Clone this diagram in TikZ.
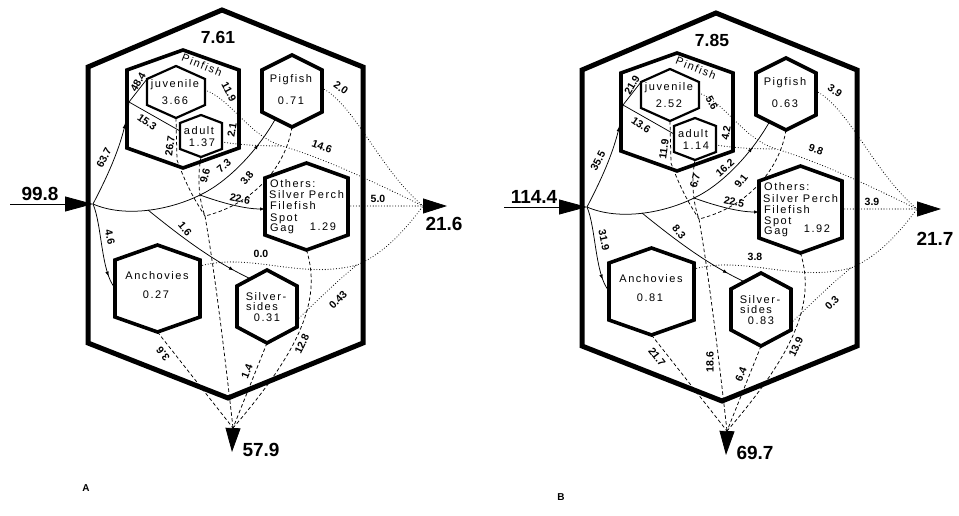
\documentclass[tikz,border=0pt]{standalone}
\usepackage{fontspec}
\setmainfont{Liberation Sans}
\newfontfamily\lblfont[LetterSpace=14]{Liberation Sans}
\usetikzlibrary{arrows.meta,decorations.markings,calc}
\tikzset{
 outerhex/.style={line width=5pt, line join=miter},
 hexmed/.style={line width=3.6pt, line join=miter},
 hexthin/.style={line width=2.2pt, line join=miter},
 flow/.style={line width=0.75pt},
 dashflow/.style={line width=0.75pt, dash pattern=on 3.5pt off 2.5pt},
 dotflow/.style={line width=1.1pt, dash pattern=on 0pt off 2.8pt, line cap=round},
 midarrow/.style={postaction={decorate}, decoration={markings, mark=at position #1 with {\arrow{Latex[length=5pt,width=3.5pt]}}}},
 endarrow/.style={-{Latex[length=5pt,width=3.5pt]}},
 toplab/.style={font=\bfseries\fontsize{17.5}{18}\selectfont, inner sep=0pt},
 biglab/.style={font=\bfseries\fontsize{19}{19}\selectfont, inner sep=0pt},
 hexlab/.style={font=\lblfont\fontsize{11}{12}\selectfont, inner sep=0pt},
 elab/.style={font=\bfseries\fontsize{10.5}{11}\selectfont, inner sep=0pt},
 panlab/.style={font=\bfseries\fontsize{10}{10}\selectfont, inner sep=0pt},
}
\newcommand\hexshape[7]{%
  \coordinate (#1-t) at (#2,#3-#5);
  \coordinate (#1-tr) at (#2+#4,#3-#5+#6);
  \coordinate (#1-br) at (#2+#4,#3+#5-#6);
  \coordinate (#1-b) at (#2,#3+#5);
  \coordinate (#1-bl) at (#2-#4,#3+#5-#6);
  \coordinate (#1-tl) at (#2-#4,#3-#5+#6);
  \draw[#7] (#1-t) -- (#1-tr) -- (#1-br) -- (#1-b) -- (#1-bl) -- (#1-tl) -- cycle;
}
\newcommand\panel{%
 \coordinate (o-t) at (222,10);
 \coordinate (o-tr) at (363,67);
 \coordinate (o-br) at (363,343);
 \coordinate (o-b) at (228,398);
 \coordinate (o-bl) at (88,343);
 \coordinate (o-tl) at (88,67);
 \draw[outerhex] (o-t) -- (o-tr) -- (o-br) -- (o-b) -- (o-bl) -- (o-tl) -- cycle;
 \node[toplab] (top) at (218,37) {\vTop};
 \hexshape{pin}{183}{109}{56}{59}{20}{hexmed}
 \hexshape{juv}{176}{92}{29}{26}{13}{hexthin}
 \hexshape{adu}{201}{136}{21}{21}{8}{hexthin}
 \hexshape{pig}{292}{91}{30}{36}{15}{hexmed}
 \hexshape{oth}{306.5}{206.5}{41.5}{43.5}{15}{hexmed}
 \hexshape{anc}{157.5}{288.5}{42.5}{43.5}{15}{hexmed}
 \hexshape{sil}{267}{306.5}{30}{36.5}{16}{hexmed}
 % compartment texts
 \node[hexlab, rotate=-22] (pinT) at (202,65) {Pinfish};
 \node[hexlab] (juvT) at (175,85) {juvenile};
 \node[hexlab] (juvV) at (175,101) {\vJuv};
 \node[hexlab] (aduT) at (199,131) {adult};
 \node[hexlab] (aduV) at (202,143) {\vAdu};
 \node[hexlab] (pigT) at (291,80) {Pigfish};
 \node[hexlab] (pigV) at (291,101) {\vPig};
 \node[hexlab, anchor=base west] (othA) at (270,187) {Others:};
 \node[hexlab, anchor=base west] (othB) at (269,199) {Silver Perch};
 \node[hexlab, anchor=base west] (othC) at (270,210) {Filefish};
 \node[hexlab, anchor=base west] (othD) at (270,221) {Spot};
 \node[hexlab, anchor=base west] (othE) at (270,231) {Gag};
 \node[hexlab, anchor=base] (othV) at (323,230) {\vOth};
 \node[hexlab] (ancT) at (157,276) {Anchovies};
 \node[hexlab] (ancV) at (156,295) {\vAnc};
 \node[hexlab] (silT) at (266,297) {Silver-};
 \node[hexlab] (silS) at (262,307) {sides};
 \node[hexlab] (silV) at (267,318) {\vSil};
 % input and outputs
 \coordinate (inS) at (10,204);
 \coordinate (J) at (93,204);
 \draw[flow, -{Triangle[length=28pt,width=15pt]}] (inS) -- (J);
 \node[biglab] (inL) at (40,194) {\vIn};
 \coordinate (E) at (423,206);
 \coordinate (Et) at (447,206);
 \draw[flow, -{Triangle[length=24pt,width=15pt]}] (E) -- (Et);
 \node[biglab] (outR) at \posOutR {\vOutR};
 \coordinate (D) at (233,428);
 \coordinate (Dt) at (232,452);
 \draw[flow, -{Triangle[length=24pt,width=15pt]}] (D) -- (Dt);
 \node[biglab] (outB) at (261,450) {\vOutB};
 % solid flows
 \coordinate (P) at (129,102);
 \draw[flow, midarrow=0.8] (J) .. controls (108,175) and (125,140) .. (P);
 \draw[flow] (P) -- (juv-tl);
 \coordinate (aduL) at (180,131);
 \draw[flow] (P) -- (aduL);
 \coordinate (K) at (200,195);
 \coordinate (b1) at (148,210);
 \coordinate (pigBL) at ($(pig-bl)!0.45!(pig-b)$);
 \draw[flow, midarrow=0.86] (J) .. controls (125,218) and (170,210) .. (K) .. controls (228,182) and (258,150) .. (pigBL);
 \coordinate (othL) at (265,209);
 \draw[flow, endarrow] (K) .. controls (222,203) and (245,209) .. (othL);
 \coordinate (silTL) at ($(sil-tl)!0.45!(sil-t)$);
 \draw[flow, midarrow=0.85] (b1) .. controls (185,240) and (215,262) .. (silTL);
 \coordinate (ancL) at (115,288);
 \draw[flow, midarrow=0.85] (J) .. controls (102,225) and (101,272) .. (ancL);
 % dashed flows (to bottom)
 \coordinate (M) at (205,216);
 \coordinate (jv) at (177,160);
 \draw[dashflow] (juv-b) -- (jv) .. controls (188,190) and (198,205) .. (M);
 \draw[dashflow] (adu-b) .. controls (197,178) and (199,200) .. (M);
 \draw[dashflow] (pig-b) .. controls (285,170) and (250,205) .. (M);
 \draw[dashflow] (M) .. controls (213,262) and (222,330) .. (D);
 \draw[dashflow] (anc-b) -- (D);
 \draw[dashflow] (sil-b) -- (D);
 \draw[dashflow] (oth-b) .. controls (322,300) and (300,350) .. (D);
 % dotted flows (to the right)
 \coordinate (pigR) at (322,88);
 \draw[dotflow] (pigR) .. controls (355,105) and (380,170) .. (E);
 \coordinate (juvR) at (205,90);
 \coordinate (Q) at (282,146);
 \draw[dotflow] (juvR) .. controls (232,100) and (248,135) .. (Q) .. controls (330,160) and (390,190) .. (E);
 \coordinate (aduR) at (222,142);
 \draw[dotflow] (aduR) .. controls (240,145) and (262,146) .. (Q);
 \coordinate (othR) at (348,206);
 \draw[dotflow] (othR) -- (E);
 \coordinate (ancR) at (200,266);
 \coordinate (R) at (357,265);
 \draw[dotflow] (ancR) .. controls (250,252) and (300,280) .. (R) .. controls (385,253) and (405,230) .. (E);
 \coordinate (silR) at (297,320);
 \draw[dotflow] (silR) .. controls (318,300) and (338,280) .. (R);
 % flow labels
 \node[elab, rotate=62] (l1) at (104,158) {\flowA};
 \node[elab, rotate=60] (l2) at (138,82) {\flowB};
 \node[elab, rotate=-35] (l3) at (147,122) {\flowC};
 \node[elab, rotate=-62] (l4) at \posD {\flowD};
 \node[elab, rotate=80] (l5) at (232,130) {\flowE};
 \node[elab, rotate=82] (l6) at (170,146) {\flowF};
 \node[elab, rotate=75] (l7) at \posG {\flowG};
 \node[elab, rotate=40] (l8) at \posH {\flowH};
 \node[elab, rotate=52] (l9) at (247,178) {\flowI};
 \node[elab, rotate=-20] (l10) at (322,147) {\flowJ};
 \node[elab, rotate=-35] (l11) at (341,88) {\flowK};
 \node[elab, rotate=-12] (l12) at (240,199) {\flowL};
 \node[elab] (l13) at (378,199) {\flowM};
 \node[elab, rotate=-50] (l14) at (185,229) {\flowN};
 \node[elab] (l15) at (261,254) {\flowO};
 \node[elab, rotate=45] (l16) at (338,300) {\flowP};
 \node[elab, rotate=-78] (l17) at (110,237) {\flowQ};
 \node[elab, rotate=\angR] (l18) at (163,354) {\flowR};
 \node[elab, rotate=68] (l19) at (247,371) {\flowS};
 \node[elab, rotate=65] (l20) at (302,344) {\flowT};
}
\begin{document}
\begin{tikzpicture}[x=1pt,y=-1pt]
\useasboundingbox (0,0) rectangle (959,516);
\begin{scope}[name prefix=A-]
 \def\vTop{7.61}\def\vIn{99.8}\def\vOutR{21.6}\def\vOutB{57.9}
 \def\vJuv{3.66}\def\vAdu{1.37}\def\vPig{0.71}\def\vOth{1.29}\def\vAnc{0.27}\def\vSil{0.31}
 \def\flowA{63.7}\def\flowB{48.4}\def\flowC{15.3}\def\flowD{11.9}\def\flowE{2.1}
 \def\flowF{26.7}\def\flowG{9.6}\def\flowH{7.3}\def\flowI{3.8}\def\flowJ{14.6}
 \def\flowK{2.0}\def\flowL{22.6}\def\flowM{5.0}\def\flowN{1.6}\def\flowO{0.0}
 \def\flowP{0.43}\def\flowQ{4.6}\def\flowR{3.6}\def\flowS{1.4}\def\flowT{12.8}
 \def\angR{128}\def\posD{(229,92)}\def\posOutR{(444,224)}
 \def\posG{(205,176)}\def\posH{(224,166)}
 \panel
\end{scope}
\begin{scope}[shift={(494,3)}, name prefix=B-]
 \def\vTop{7.85}\def\vIn{114.4}\def\vOutR{21.7}\def\vOutB{69.7}
 \def\vJuv{2.52}\def\vAdu{1.14}\def\vPig{0.63}\def\vOth{1.92}\def\vAnc{0.81}\def\vSil{0.83}
 \def\flowA{35.5}\def\flowB{21.9}\def\flowC{13.6}\def\flowD{5.6}\def\flowE{4.2}
 \def\flowF{11.9}\def\flowG{6.7}\def\flowH{16.2}\def\flowI{9.1}\def\flowJ{9.8}
 \def\flowK{3.9}\def\flowL{22.5}\def\flowM{3.9}\def\flowN{8.3}\def\flowO{3.8}
 \def\flowP{0.3}\def\flowQ{31.9}\def\flowR{21.7}\def\flowS{6.4}\def\flowT{13.9}
 \def\angR{-52}\def\posD{(218,100)}\def\posOutR{(441,236)}
 \def\posG{(201,178)}\def\posH{(231,165)}
 \panel
 \node[elab, rotate=90] (l21) at (216,359) {18.6};
\end{scope}
\node[panlab] (pA) at (86,488) {A};
\node[panlab] (pB) at (561,497) {B};
\end{tikzpicture}
\end{document}
